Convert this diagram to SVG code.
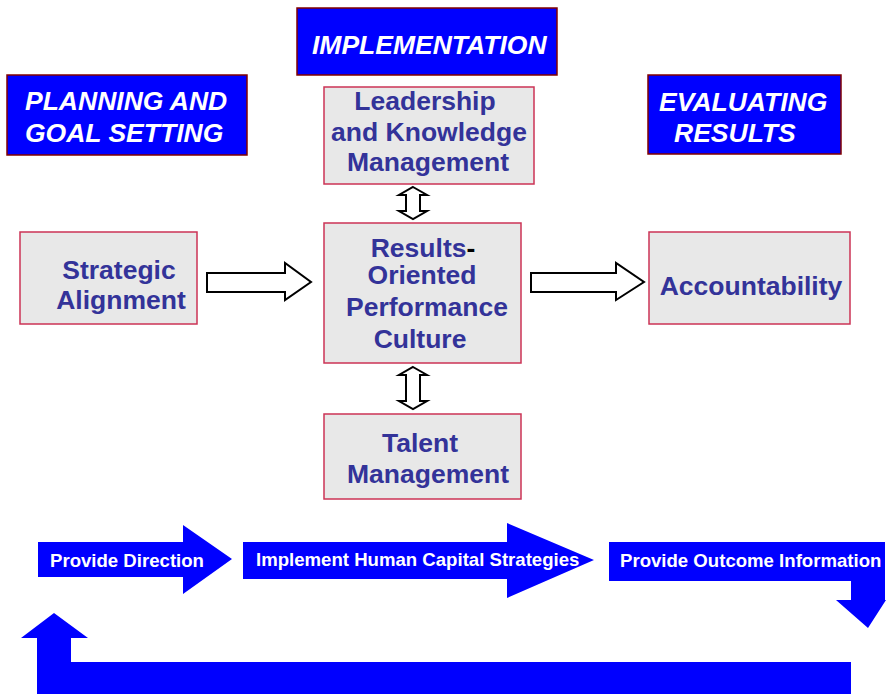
<svg xmlns="http://www.w3.org/2000/svg" width="886" height="694" viewBox="0 0 886 694">
<style>
.hdr{fill:#0000FF;stroke:#800000;stroke-width:1.5}
.hdrt{fill:#FFFFFF;font-family:"Liberation Sans",Arial,sans-serif;font-weight:bold;font-style:italic;font-size:26.5px}
.node{fill:#E8E8E8;stroke:#CC3355;stroke-width:1.5}
.nt{fill:#333399;font-family:"Liberation Sans",Arial,sans-serif;font-weight:bold;font-size:26.5px;text-anchor:middle}
.conn{fill:#FFFFFF;stroke:#000000;stroke-width:2;stroke-linejoin:miter}
.flow{fill:#0000FF}
.ft{fill:#FFFFFF;font-family:"Liberation Sans",Arial,sans-serif;font-weight:bold;font-size:18.6px}
</style>
<rect width="886" height="694" fill="#FFFFFF"/>
<g id="planning">
<rect class="hdr" x="7" y="75" width="240" height="80"/>
<text class="hdrt" x="25" y="110">PLANNING AND</text>
<text class="hdrt" x="25" y="142">GOAL SETTING</text>
</g>
<g id="implementation">
<rect class="hdr" x="297" y="8" width="260" height="67"/>
<text class="hdrt" x="312" y="54">IMPLEMENTATION</text>
</g>
<g id="evaluating">
<rect class="hdr" x="648" y="75" width="193" height="79"/>
<text class="hdrt" x="659" y="111">EVALUATING</text>
<text class="hdrt" x="674" y="142">RESULTS</text>
</g>
<g id="leadership">
<rect class="node" x="324" y="87" width="210" height="97"/>
<text class="nt" x="425" y="110">Leadership</text>
<text class="nt" x="429" y="141">and Knowledge</text>
<text class="nt" x="428" y="171">Management</text>
</g>
<g id="strategic">
<rect class="node" x="20" y="232" width="177" height="92"/>
<text class="nt" x="119" y="279">Strategic</text>
<text class="nt" x="121" y="309">Alignment</text>
</g>
<g id="culture">
<rect class="node" x="324" y="223" width="197" height="140"/>
<text class="nt" x="423" y="257">Results<tspan fill="#000000">-</tspan></text>
<text class="nt" x="422" y="284">Oriented</text>
<text class="nt" x="427" y="316">Performance</text>
<text class="nt" x="420" y="348">Culture</text>
</g>
<g id="accountability">
<rect class="node" x="649" y="232" width="201" height="92"/>
<text class="nt" x="751" y="295">Accountability</text>
</g>
<g id="talent">
<rect class="node" x="324" y="414" width="197" height="85"/>
<text class="nt" x="420" y="452">Talent</text>
<text class="nt" x="428" y="483">Management</text>
</g>
<g id="connectors">
<polygon class="conn" points="207,273 285,273 285,263 311,282 285,300 285,292 207,292"/>
<polygon class="conn" points="531,273 616,273 616,263 644,282 616,300 616,292 531,292"/>
<polygon class="conn" points="413,187 427,195 420,195 420,211 427,211 413,219 399,211 406,211 406,195 399,195"/>
<polygon class="conn" points="413,367 427,375 420,375 420,401 427,401 413,409 399,401 406,401 406,375 399,375"/>
</g>
<g id="provide-direction">
<polygon class="flow" points="38,542 183,542 183,525 232,559 183,594 183,577 38,577"/>
<text class="ft" x="50" y="567">Provide Direction</text>
</g>
<g id="implement-strategies">
<polygon class="flow" points="243,542 507,542 507,523 594,560 507,598 507,579 243,579"/>
<text class="ft" x="256" y="566">Implement Human Capital Strategies</text>
</g>
<g id="provide-outcome">
<polygon class="flow" points="609,542 885,542 885,600 886,600 868,628 836,600 851,600 851,581 609,581"/>
<text class="ft" x="620" y="567">Provide Outcome Information</text>
</g>
<g id="feedback">
<polygon class="flow" points="37,694 37,638 21,638 54,613 88,638 71,638 71,662 851,662 851,694"/>
</g>
</svg>
